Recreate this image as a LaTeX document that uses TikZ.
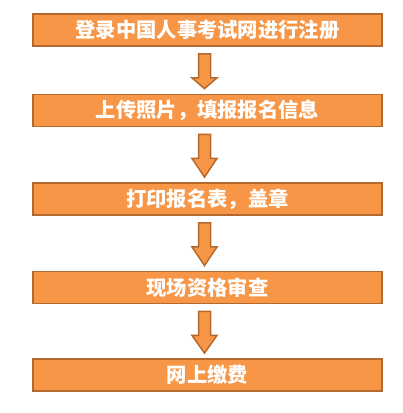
\documentclass[tikz,border=0pt]{standalone}
\usepackage{fontspec}
\newfontfamily\cjk{Noto Sans CJK SC}
\usetikzlibrary{calc}
\definecolor{boxfill}{HTML}{F79646}
\definecolor{boxline}{HTML}{B4692E}
\tikzset{
  stepbox/.style={draw=boxline, line width=1.8pt, fill=boxfill, minimum width=349pt, minimum height=32pt, inner sep=0pt, text=white, font=\cjk\bfseries\fontsize{20.3}{22}\selectfont},
  blockarr/.style={draw=boxline, line width=1.5pt, fill=boxfill, line join=miter}
}
\newcommand{\blockarrow}[2]{%
  \draw[blockarr] ($(#1.south)+(-3,7)$) coordinate (t)
    -- ++(-6,0) -- ++(0,24) -- ++(-6.5,0)
    -- ($(#2.north)+(-3,-5)$) coordinate (tip)
    -- ($(t)+(12.5,24)$) -- ++(-6.5,0) -- ++(0,-24) -- cycle;
}
\begin{document}
\begin{tikzpicture}[x=1pt,y=-1pt]
\useasboundingbox (0,0) rectangle (403,413);
\node[stepbox] (b1) at (207.5,30) {登录中国人事考试网进行注册};
\node[stepbox] (b2) at (207.5,110.5) {上传照片，填报报名信息};
\node[stepbox] (b3) at (207.5,199) {打印报名表，盖章};
\node[stepbox] (b4) at (207.5,287.5) {现场资格审查};
\node[stepbox] (b5) at (207.5,375) {网上缴费};
\blockarrow{b1}{b2}
\blockarrow{b2}{b3}
\blockarrow{b3}{b4}
\blockarrow{b4}{b5}
\end{tikzpicture}
\end{document}
